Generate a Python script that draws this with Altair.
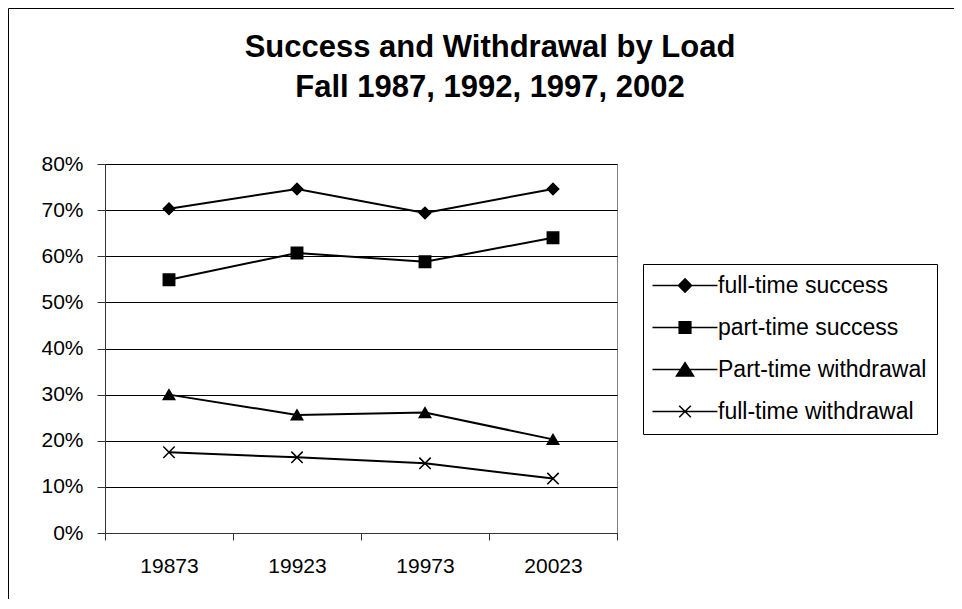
import altair as alt
import pandas as pd

# ---- data ----
years = ["19873", "19923", "19973", "20023"]
series = ["full-time success", "part-time success", "Part-time withdrawal", "full-time withdrawal"]
full_time_success = [0.703, 0.746, 0.694, 0.746]
part_time_success = [0.549, 0.607, 0.588, 0.640]
part_time_withdrawal = [0.300, 0.256, 0.261, 0.203]
full_time_withdrawal = [0.175, 0.164, 0.151, 0.118]
y_ticks = [0.0, 0.1, 0.2, 0.3, 0.4, 0.5, 0.6, 0.7, 0.8]
title_lines = ["Success and Withdrawal by Load", "Fall 1987, 1992, 1997, 2002"]

values_by_series = [full_time_success, part_time_success, part_time_withdrawal, full_time_withdrawal]
rows = []
for name, vals in zip(series, values_by_series):
    for yr, v in zip(years, vals):
        rows.append({"year": yr, "series": name, "value": v})
df = pd.DataFrame(rows)

FONT = "Liberation Sans"

# marker shapes in the plot
point_shapes = ["diamond", "square", "triangle-up", "M-1,-1L1,1M-1,1L1,-1"]
# legend symbols: a line segment with the marker in its middle
legend_paths = [
    "M-2,0H8.83M3.42,-1.1L4.52,0L3.42,1.1L2.32,0Z",
    "M-2,0H8.83M2.45,-0.97H4.39V0.97H2.45Z",
    "M-2,0H8.83M3.42,-1.15L4.85,1.08H1.99Z",
    "M-2,0H8.83M2.45,-0.97L4.39,0.97M2.45,0.97L4.39,-0.97",
]

x_enc = alt.X(
    "year:O",
    sort=years,
    scale=alt.Scale(type="band", paddingInner=0, paddingOuter=0),
    bandPosition=0.5,
    axis=alt.Axis(
        title=None, labelAngle=0, labelFont=FONT, labelFontSize=21, labelColor="black",
        labelPadding=15, tickBand="extent", tickSize=7, tickColor="#333333",
        domainColor="#333333", grid=False,
    ),
)
y_enc = alt.Y(
    "value:Q",
    scale=alt.Scale(domain=[0, 0.8], nice=False),
    axis=alt.Axis(
        title=None, values=y_ticks, format=".0%", labelFont=FONT, labelFontSize=21,
        labelColor="black", labelPadding=14, tickSize=8, tickColor="#333333",
        domainColor="#333333", grid=True, gridColor="black", gridWidth=1,
    ),
)

frame = alt.Chart(pd.DataFrame({"k": [0]})).mark_rect(
    fill="transparent", stroke="black", strokeWidth=1
).encode(
    x=alt.value(-96.5), x2=alt.value(900), y=alt.value(-155.5), y2=alt.value(900)
)

lines = alt.Chart(df).mark_line(color="black", strokeWidth=2).encode(
    x=x_enc, y=y_enc, detail="series:N"
)

points = alt.Chart(df).mark_point(
    filled=True, color="black", stroke="black", strokeWidth=1.5, size=130, opacity=1
).encode(
    x=x_enc, y=y_enc,
    shape=alt.Shape("series:N", scale=alt.Scale(domain=series, range=point_shapes), legend=None),
)

legend_layer = alt.Chart(df).transform_filter("false").mark_point(
    filled=True, color="black", stroke="black", strokeWidth=1.5, opacity=1
).encode(
    x=x_enc, y=y_enc,
    shape=alt.Shape(
        "series:N",
        scale=alt.Scale(domain=series, range=legend_paths),
        legend=alt.Legend(
            title=None, orient="none", legendX=538, legendY=100,
            labelFont=FONT, labelFontSize=23, labelColor="black", labelOffset=42,
            labelLimit=400, symbolSize=144, symbolStrokeWidth=1.5,
            padding=10, rowPadding=18, strokeColor="black", fillColor="white",
        ),
    ),
)

chart = alt.layer(frame, lines, points, legend_layer).resolve_scale(
    shape="independent"
).properties(
    width=512,
    height=369,
    title=alt.TitleParams(
        text=title_lines, font=FONT, fontSize=31, fontWeight="bold", color="black",
        anchor="middle", dx=129, dy=96, offset=0, lineHeight=40,
    ),
    autosize=alt.AutoSizeParams(type="none"),
    padding={"left": 97, "top": 156, "right": 337, "bottom": 66},
    background="white",
).configure_view(stroke="#808080", strokeWidth=1)

chart.save("out.html", embed_options={"renderer": "svg", "actions": False})
